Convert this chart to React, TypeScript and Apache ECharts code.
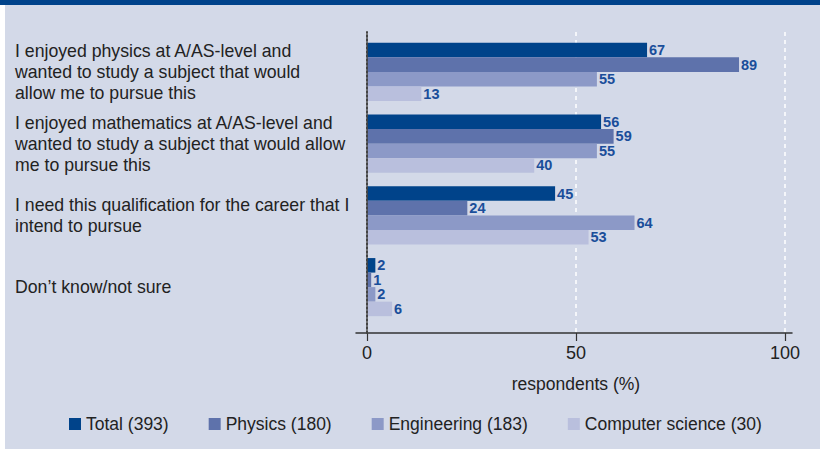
import React, { useEffect, useRef } from "react";
import * as echarts from "echarts";

const categories = [
  "I enjoyed physics at A/AS-level and\nwanted to study a subject that would\nallow me to pursue this",
  "I enjoyed mathematics at A/AS-level and\nwanted to study a subject that would allow\nme to pursue this",
  "I need this qualification for the career that I\nintend to pursue",
  "Don\u2019t know/not sure",
];
const seriesNames = ["Total (393)", "Physics (180)", "Engineering (183)", "Computer science (30)"];
const totalValues = [67, 56, 45, 2];
const physicsValues = [89, 59, 24, 1];
const engineeringValues = [55, 55, 64, 2];
const csValues = [13, 40, 53, 6];
const seriesColors = ["#00438A", "#5E72AB", "#8C99C7", "#B9BFDD"];
const xMin = 0;
const xMax = 100;
const xInterval = 50;
const axisTitle = "respondents (%)";

const FONT = "'Liberation Sans', Arial, sans-serif";

export default function App() {
  const ref = useRef<HTMLDivElement>(null);
  useEffect(() => {
    if (!ref.current) return;
    const chart = echarts.init(ref.current, null, { renderer: "svg" });
    const allValues = [totalValues, physicsValues, engineeringValues, csValues];
    const option: any = {
      animation: false,
      backgroundColor: "#D3D9E8",
      textStyle: { fontFamily: FONT },
      graphic: [
        { type: "rect", shape: { x: 0, y: 0, width: 820, height: 5 }, style: { fill: "#00438B" }, silent: true },
        { type: "rect", shape: { x: 0, y: 5, width: 5, height: 444 }, style: { fill: "#FFFFFF" }, silent: true },
      ],
      legend: {
        left: 64,
        top: 410,
        itemWidth: 12,
        itemHeight: 12,
        itemGap: 40,
        icon: "rect",
        textStyle: { fontSize: 17.5, color: "#222", fontFamily: FONT },
        data: seriesNames,
      },
      grid: [
        { left: 367, width: 418, top: 36, height: 287, containLabel: false, outerBoundsMode: "none" },
        { left: 367, width: 418, top: 32, height: 301, containLabel: false, outerBoundsMode: "none" },
        { left: 356, width: 436, top: 32, height: 301, containLabel: false, outerBoundsMode: "none" },
      ],
      xAxis: [
        {
          gridIndex: 0,
          type: "value",
          min: xMin,
          max: xMax,
          interval: xInterval,
          offset: 10,
          axisLine: { show: false },
          axisTick: { show: true, length: 8, lineStyle: { color: "#333", width: 1.2 } },
          axisLabel: { fontSize: 18, color: "#222", margin: 11, fontFamily: FONT },
          splitLine: { show: false },
          name: axisTitle,
          nameLocation: "middle",
          nameGap: 42,
          nameTextStyle: { fontSize: 17.5, color: "#222", fontFamily: FONT },
        },
        {
          gridIndex: 1,
          type: "value",
          min: xMin,
          max: xMax,
          interval: xInterval,
          axisLine: { show: false },
          axisTick: { show: false },
          axisLabel: { show: false },
          splitLine: { show: true, lineStyle: { color: "#FFFFFF", width: 1.5, type: [4, 4] } },
        },
        {
          gridIndex: 2,
          type: "value",
          min: 0,
          max: 1,
          axisLine: { show: true, lineStyle: { color: "#333", width: 1.5 } },
          axisTick: { show: false },
          axisLabel: { show: false },
          splitLine: { show: false },
        },
      ],
      yAxis: [
        {
          gridIndex: 0,
          type: "category",
          data: categories,
          inverse: true,
          axisLine: { show: false },
          axisTick: { show: false },
          axisLabel: {
            align: "left",
            margin: 352,
            fontSize: 17.7,
            lineHeight: 21,
            color: "#222",
            fontFamily: FONT,
          },
        },
        {
          gridIndex: 1,
          type: "value",
          z: 5,
          axisLine: { show: true, lineStyle: { color: "#444", width: 2, type: [2, 2] } },
          axisTick: { show: false },
          axisLabel: { show: false },
          splitLine: { show: false },
        },
        {
          gridIndex: 2,
          type: "value",
          show: false,
        },
      ],
      series: seriesNames.map((name, i) => ({
        name,
        type: "bar",
        xAxisIndex: 0,
        yAxisIndex: 0,
        data: allValues[i],
        barGap: "0%",
        barCategoryGap: "19%",
        itemStyle: { color: seriesColors[i] },
        label: {
          show: true,
          position: "right",
          distance: 2,
          fontSize: 14.5,
          fontWeight: "bold",
          color: "#1A4E9A",
          fontFamily: FONT,
        },
      })),
    };
    chart.setOption(option);
    return () => chart.dispose();
  }, []);
  return (
    <div
      ref={ref}
      style={{ position: "absolute", left: 0, top: 0, width: 820, height: 449 }}
    />
  );
}
